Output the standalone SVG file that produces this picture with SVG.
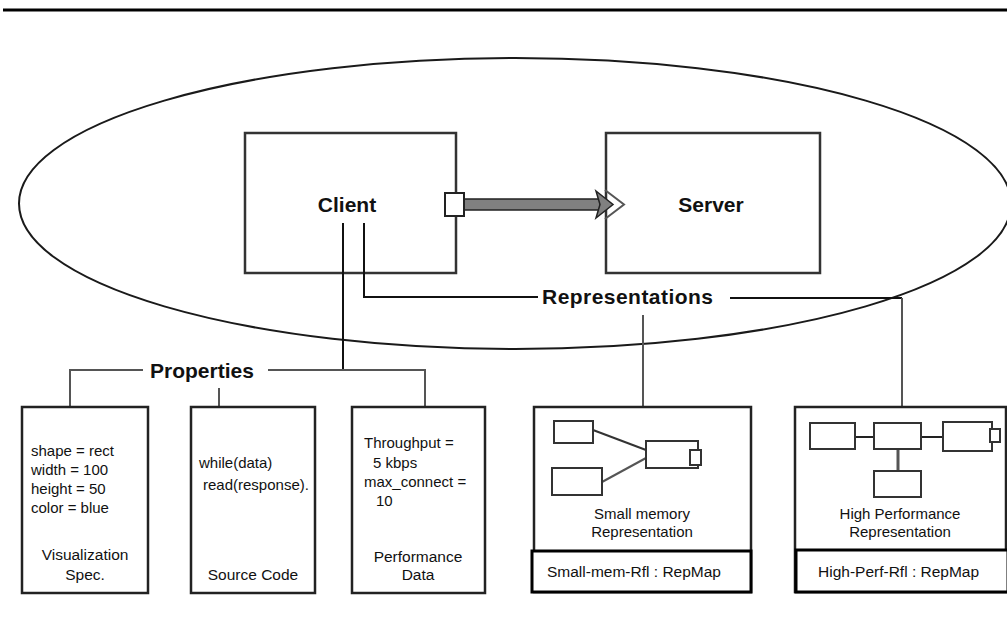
<svg xmlns="http://www.w3.org/2000/svg" width="1007" height="641" viewBox="0 0 1007 641">
<style>
text{font-family:"Liberation Sans",Arial,sans-serif;fill:#111}
.big{font-size:21px;font-weight:bold}
.sm{font-size:15px}
.lbl{font-size:15.5px}
.rm{font-size:15.5px}
.box{fill:#fff;stroke:#222;stroke-width:2.5}
.comp{fill:#fff;stroke:#333;stroke-width:2.5}
.mini{fill:#fff;stroke:#333;stroke-width:2}
.ln{stroke:#111;stroke-width:2;fill:none}
.gl{stroke:#555;stroke-width:2;fill:none}
</style>
<rect width="1007" height="641" fill="#fff"/>
<line x1="3" y1="10" x2="1007" y2="10" stroke="#000" stroke-width="3"/>
<g id="system">
<ellipse cx="515" cy="203.5" rx="496" ry="145.5" fill="none" stroke="#1a1a1a" stroke-width="2"/>
</g>
<g id="client">
<rect class="comp" x="245" y="133" width="211" height="140"/>
<text class="big" x="347" y="212" text-anchor="middle">Client</text>
</g>
<g id="server">
<rect class="comp" x="606" y="133" width="214" height="140"/>
<text class="big" x="711" y="212" text-anchor="middle">Server</text>
</g>
<g id="connectors">
<rect x="462" y="199" width="138" height="11" fill="#808080" stroke="#222" stroke-width="1.5"/>
<polygon points="596,191 613,204.5 596,218 600,204.5" fill="#808080" stroke="#222" stroke-width="1.5"/>
<polyline points="605,190 624,204.5 605,219" fill="none" stroke="#555" stroke-width="2"/>
<rect x="445" y="193" width="19" height="23" fill="#fff" stroke="#222" stroke-width="2"/>
<line class="ln" x1="343" y1="223" x2="343" y2="370"/>
<polyline class="gl" points="70,407 70,370 143,370"/>
<polyline class="gl" points="268,370 425,370 425,407"/>
<line class="gl" x1="219" y1="388" x2="219" y2="407"/>
<polyline class="ln" points="364,223 364,297 538,297" stroke="#222"/>
<line class="ln" x1="730" y1="298" x2="902" y2="298"/>
<line class="gl" x1="902" y1="298" x2="902" y2="407"/>
<line class="gl" x1="643" y1="315" x2="643" y2="407"/>
<text class="big" x="150" y="378">Properties</text>
<text class="big" x="542" y="304" textLength="171">Representations</text>
</g>
<g id="vis-spec">
<rect class="box" x="22" y="407" width="126" height="186"/>
<text class="sm" x="31" y="456">shape = rect</text>
<text class="sm" x="31" y="475">width = 100</text>
<text class="sm" x="31" y="494">height = 50</text>
<text class="sm" x="31" y="513">color = blue</text>
<text class="lbl" x="85" y="560" text-anchor="middle">Visualization</text>
<text class="lbl" x="85" y="580" text-anchor="middle">Spec.</text>
</g>
<g id="source-code">
<rect class="box" x="191" y="407" width="124" height="186"/>
<text class="sm" x="199" y="468">while(data)</text>
<text class="sm" x="203" y="490">read(response).</text>
<text class="lbl" x="253" y="580" text-anchor="middle">Source Code</text>
</g>
<g id="perf-data">
<rect class="box" x="352" y="407" width="133" height="186"/>
<text class="sm" x="364" y="448">Throughput =</text>
<text class="sm" x="373" y="468">5 kbps</text>
<text class="sm" x="364" y="487">max_connect =</text>
<text class="sm" x="376" y="506">10</text>
<text class="lbl" x="418" y="562" text-anchor="middle">Performance</text>
<text class="lbl" x="418" y="580" text-anchor="middle">Data</text>
</g>
<g id="small-mem-rep">
<rect class="box" x="534" y="407" width="217" height="185" stroke="#444"/>
<rect x="532" y="551" width="219" height="41" fill="#fff" stroke="#000" stroke-width="3"/>
<line x1="593" y1="430" x2="646" y2="450" stroke="#333" stroke-width="2"/>
<line x1="602" y1="482" x2="646" y2="458" stroke="#555" stroke-width="2"/>
<rect class="mini" x="554" y="421" width="39" height="22"/>
<rect class="mini" x="552" y="468" width="50" height="27"/>
<rect class="mini" x="646" y="441" width="52" height="27"/>
<rect class="mini" x="690" y="450" width="11" height="15" stroke-width="1.5"/>
<text class="sm" x="642" y="519" text-anchor="middle">Small memory</text>
<text class="sm" x="642" y="537" text-anchor="middle">Representation</text>
<text class="rm" x="547" y="577">Small-mem-Rfl : RepMap</text>
</g>
<g id="high-perf-rep">
<rect class="box" x="795" y="407" width="211" height="185" stroke="#444"/>
<rect x="796" y="550" width="212" height="42" fill="#fff" stroke="#000" stroke-width="3"/>
<line x1="855" y1="437" x2="874" y2="437" stroke="#222" stroke-width="2"/>
<line x1="921" y1="437" x2="943" y2="437" stroke="#222" stroke-width="2"/>
<line x1="898" y1="449" x2="898" y2="471" stroke="#555" stroke-width="3"/>
<rect class="mini" x="810" y="423" width="45" height="26"/>
<rect class="mini" x="874" y="423" width="47" height="26"/>
<rect class="mini" x="943" y="422" width="49" height="29"/>
<rect class="mini" x="990" y="429" width="10" height="13" stroke-width="1.5"/>
<rect class="mini" x="874" y="471" width="47" height="26"/>
<text class="sm" x="900" y="519" text-anchor="middle">High Performance</text>
<text class="sm" x="900" y="537" text-anchor="middle">Representation</text>
<text class="rm" x="818" y="577">High-Perf-Rfl : RepMap</text>
</g>
</svg>
